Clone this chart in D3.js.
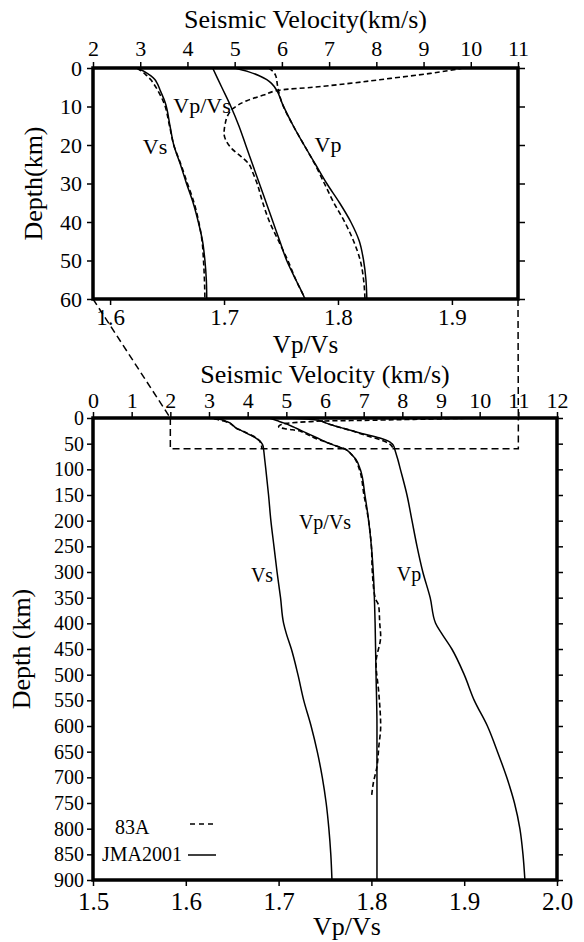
<!DOCTYPE html>
<html>
<head>
<meta charset="utf-8">
<script src="https://cdn.jsdelivr.net/npm/d3@7"></script>
<style>
  html, body { margin: 0; padding: 0; background: #fff; }
  svg { display: block; }
  text { font-family: "Liberation Serif", "Times New Roman", serif; fill: #000; }
</style>
</head>
<body>
<svg id="chart" width="584" height="942"></svg>
<script>
// ---------------- DATA ----------------
// JMA2001 model (solid)
const jmaDepth = [0, 1, 2, 3, 4, 6, 9, 15, 20, 25, 30, 35, 40, 45, 50, 55, 60, 80, 100, 150, 200, 250, 300, 350, 400, 420, 450, 500, 550, 600, 650, 700, 750, 800, 850, 900];
const jmaVp = [5.00, 5.30, 5.52, 5.68, 5.78, 5.90, 6.00, 6.24, 6.47, 6.71, 6.95, 7.22, 7.46, 7.64, 7.73, 7.78, 7.80, 7.88, 7.95, 8.12, 8.25, 8.38, 8.53, 8.72, 8.86, 9.02, 9.28, 9.60, 9.86, 10.20, 10.46, 10.70, 10.90, 11.04, 11.12, 11.17];
const jmaVs = [2.93, 3.10, 3.22, 3.31, 3.36, 3.43, 3.53, 3.63, 3.71, 3.85, 3.98, 4.12, 4.23, 4.32, 4.37, 4.40, 4.41, 4.44, 4.47, 4.54, 4.60, 4.68, 4.76, 4.85, 4.93, 5.00, 5.13, 5.30, 5.45, 5.64, 5.80, 5.93, 6.03, 6.10, 6.15, 6.18];
const jmaRatioDepth = [0, 5, 10, 15, 20, 25, 30, 35, 40, 45, 50, 55, 60, 70, 80, 100, 150, 200, 250, 300, 400, 500, 600, 900];
const jmaRatio = [1.690, 1.698, 1.706, 1.713, 1.719, 1.725, 1.731, 1.737, 1.743, 1.749, 1.755, 1.763, 1.771, 1.778, 1.783, 1.788, 1.793, 1.797, 1.800, 1.802, 1.804, 1.805, 1.806, 1.806];

// 83A model (dashed)
const a83Depth = [0, 1, 2, 3, 4, 6, 9, 15, 20, 25, 30, 35, 40, 45, 50, 55, 60];
const a83Vp = [5.72, 5.82, 5.87, 5.89, 5.90, 5.93, 6.00, 6.24, 6.47, 6.70, 6.90, 7.10, 7.33, 7.52, 7.66, 7.73, 7.76];
const a83Vs = [2.93, 3.05, 3.14, 3.22, 3.28, 3.38, 3.50, 3.62, 3.71, 3.86, 4.00, 4.14, 4.24, 4.31, 4.34, 4.36, 4.37];
const a83RatioDepth = [0, 1.4, 2.7, 4.0, 5.0, 5.7, 7.0, 8.5, 10.5, 12.5, 14.5, 17, 19, 21, 23, 25, 27, 30, 35, 40, 45, 50, 55, 60, 70, 100, 150, 200, 250, 300, 350, 367, 400, 425, 477, 536, 601, 640, 679, 712, 740];
const a83Ratio = [1.910, 1.881, 1.846, 1.810, 1.778, 1.750, 1.735, 1.720, 1.708, 1.703, 1.701, 1.700, 1.702, 1.707, 1.715, 1.722, 1.725, 1.729, 1.734, 1.740, 1.748, 1.756, 1.763, 1.771, 1.778, 1.787, 1.792, 1.797, 1.800, 1.801, 1.804, 1.808, 1.809, 1.810, 1.805, 1.808, 1.810, 1.808, 1.806, 1.802, 1.800];

// Tick values / labels
const topVelTicks = [2, 3, 4, 5, 6, 7, 8, 9, 10, 11];
const topDepthTicks = [0, 10, 20, 30, 40, 50, 60];
const topRatioTicks = [1.6, 1.7, 1.8, 1.9];
const topRatioLabels = ["1.6", "1.7", "1.8", "1.9"];
const botVelTicks = [0, 1, 2, 3, 4, 5, 6, 7, 8, 9, 10, 11, 12];
const botDepthTicks = [0, 50, 100, 150, 200, 250, 300, 350, 400, 450, 500, 550, 600, 650, 700, 750, 800, 850, 900];
const botRatioTicks = [1.5, 1.6, 1.7, 1.8, 1.9, 2.0];
const botRatioLabels = ["1.5", "1.6", "1.7", "1.8", "1.9", "2.0"];

const titleVel1 = "Seismic Velocity(km/s)";
const titleVel2 = "Seismic Velocity (km/s)";
const titleDepth1 = "Depth(km)";
const titleDepth2 = "Depth (km)";
const titleRatio = "Vp/Vs";
const legendNames = ["83A", "JMA2001"];

// ---------------- DRAW ----------------
const svg = d3.select("#chart");

const topBox = {x0: 93, x1: 518, y0: 68, y1: 299};
const botBox = {x0: 93, x1: 557, y0: 418, y1: 880};

const xTopV = d3.scaleLinear().domain([2, 11]).range([topBox.x0, topBox.x1]);
const xTopR = d3.scaleLinear().domain([1.585, 1.958]).range([topBox.x0, topBox.x1]);
const yTop = d3.scaleLinear().domain([0, 60]).range([topBox.y0, topBox.y1]);

const xBotV = d3.scaleLinear().domain([0, 12]).range([botBox.x0, botBox.x1]);
const xBotR = d3.scaleLinear().domain([1.5, 2.0]).range([botBox.x0, botBox.x1]);
const yBot = d3.scaleLinear().domain([0, 900]).range([botBox.y0, botBox.y1]);

const defs = svg.append("defs");
defs.append("clipPath").attr("id", "clipTop").append("rect")
  .attr("x", topBox.x0).attr("y", topBox.y0)
  .attr("width", topBox.x1 - topBox.x0).attr("height", topBox.y1 - topBox.y0);
defs.append("clipPath").attr("id", "clipBot").append("rect")
  .attr("x", botBox.x0).attr("y", botBox.y0)
  .attr("width", botBox.x1 - botBox.x0).attr("height", botBox.y1 - botBox.y0);

function zipData(depths, vals) { return depths.map((d, i) => ({d: d, v: vals[i]})); }

function drawCurve(g, xs, ys, depths, vals, dashed) {
  const line = d3.line().x(p => xs(p.v)).y(p => ys(p.d)).curve(d3.curveMonotoneY);
  g.append("path")
    .datum(zipData(depths, vals))
    .attr("d", line)
    .attr("fill", "none")
    .attr("stroke", "#000")
    .attr("stroke-width", dashed ? 1.6 : 1.5)
    .attr("stroke-dasharray", dashed ? "5,3" : null);
}

function styleAxis(g, fontSize) {
  g.select(".domain").remove();
  g.selectAll(".tick line").attr("stroke", "#000").attr("stroke-width", 1.5);
  g.selectAll(".tick text").attr("font-size", fontSize).attr("fill", "#000")
    .attr("font-family", '"Liberation Serif", "Times New Roman", serif');
}

// ---- Top panel ----
const gTopCurves = svg.append("g").attr("clip-path", "url(#clipTop)");
drawCurve(gTopCurves, xTopV, yTop, a83Depth, a83Vs, true);
drawCurve(gTopCurves, xTopV, yTop, a83Depth, a83Vp, true);
drawCurve(gTopCurves, xTopR, yTop, a83RatioDepth, a83Ratio, true);
drawCurve(gTopCurves, xTopV, yTop, jmaDepth, jmaVs, false);
drawCurve(gTopCurves, xTopV, yTop, jmaDepth, jmaVp, false);
drawCurve(gTopCurves, xTopR, yTop, jmaRatioDepth, jmaRatio, false);

svg.append("g").attr("transform", `translate(0,${topBox.y0})`)
  .call(d3.axisTop(xTopV).tickValues(topVelTicks).tickFormat(d3.format("d")).tickSize(6).tickPadding(6))
  .call(g => styleAxis(g, 22));
svg.append("g").attr("transform", `translate(0,${topBox.y1})`)
  .call(d3.axisBottom(xTopR).tickValues(topRatioTicks).tickFormat((d, i) => topRatioLabels[i]).tickSize(6).tickPadding(4))
  .call(g => styleAxis(g, 23));
svg.append("g").attr("transform", `translate(${topBox.x0},0)`)
  .call(d3.axisLeft(yTop).tickValues(topDepthTicks).tickFormat(d3.format("d")).tickSize(6).tickPadding(5))
  .call(g => styleAxis(g, 22));
svg.append("g").attr("transform", `translate(${topBox.x1},0)`)
  .call(d3.axisRight(yTop).tickValues(topDepthTicks).tickFormat("").tickSize(7))
  .call(g => styleAxis(g, 22));

svg.append("rect")
  .attr("x", topBox.x0).attr("y", topBox.y0)
  .attr("width", topBox.x1 - topBox.x0).attr("height", topBox.y1 - topBox.y0)
  .attr("fill", "none").attr("stroke", "#000").attr("stroke-width", 3.5);

svg.append("text").attr("x", (topBox.x0 + topBox.x1) / 2).attr("y", 28)
  .attr("text-anchor", "middle").attr("font-size", 26).text(titleVel1);
svg.append("text").attr("x", (topBox.x0 + topBox.x1) / 2).attr("y", 353)
  .attr("text-anchor", "middle").attr("font-size", 25).text(titleRatio);
svg.append("text").attr("transform", `translate(42,${(topBox.y0 + topBox.y1) / 2}) rotate(-90)`)
  .attr("text-anchor", "middle").attr("font-size", 26).text(titleDepth1);

svg.append("text").attr("x", 155).attr("y", 154).attr("text-anchor", "middle").attr("font-size", 22).text("Vs");
svg.append("text").attr("x", 202).attr("y", 113).attr("text-anchor", "middle").attr("font-size", 22).text("Vp/Vs");
svg.append("text").attr("x", 328).attr("y", 152).attr("text-anchor", "middle").attr("font-size", 22).text("Vp");

// ---- Bottom panel ----
const gBotCurves = svg.append("g").attr("clip-path", "url(#clipBot)");
drawCurve(gBotCurves, xBotV, yBot, a83Depth, a83Vs, true);
drawCurve(gBotCurves, xBotV, yBot, a83Depth, a83Vp, true);
drawCurve(gBotCurves, xBotR, yBot, a83RatioDepth, a83Ratio, true);
drawCurve(gBotCurves, xBotV, yBot, jmaDepth, jmaVs, false);
drawCurve(gBotCurves, xBotV, yBot, jmaDepth, jmaVp, false);
drawCurve(gBotCurves, xBotR, yBot, jmaRatioDepth, jmaRatio, false);

svg.append("g").attr("transform", `translate(0,${botBox.y0})`)
  .call(d3.axisTop(xBotV).tickValues(botVelTicks).tickFormat(d3.format("d")).tickSize(6).tickPadding(4))
  .call(g => styleAxis(g, 22));
svg.append("g").attr("transform", `translate(0,${botBox.y1})`)
  .call(d3.axisBottom(xBotR).tickValues(botRatioTicks).tickFormat((d, i) => botRatioLabels[i]).tickSize(6).tickPadding(6))
  .call(g => styleAxis(g, 25));
svg.append("g").attr("transform", `translate(${botBox.x0},0)`)
  .call(d3.axisLeft(yBot).tickValues(botDepthTicks).tickFormat(d3.format("d")).tickSize(6).tickPadding(3))
  .call(g => styleAxis(g, 20));
svg.append("g").attr("transform", `translate(${botBox.x1},0)`)
  .call(d3.axisRight(yBot).tickValues(botDepthTicks).tickFormat("").tickSize(6))
  .call(g => styleAxis(g, 20));

svg.append("rect")
  .attr("x", botBox.x0).attr("y", botBox.y0)
  .attr("width", botBox.x1 - botBox.x0).attr("height", botBox.y1 - botBox.y0)
  .attr("fill", "none").attr("stroke", "#000").attr("stroke-width", 3.5);

svg.append("text").attr("x", (botBox.x0 + botBox.x1) / 2).attr("y", 383)
  .attr("text-anchor", "middle").attr("font-size", 26).text(titleVel2);
svg.append("text").attr("x", 347).attr("y", 935)
  .attr("text-anchor", "middle").attr("font-size", 26).text(titleRatio);
svg.append("text").attr("transform", `translate(30,${(botBox.y0 + botBox.y1) / 2}) rotate(-90)`)
  .attr("text-anchor", "middle").attr("font-size", 26).text(titleDepth2);

svg.append("text").attr("x", 262).attr("y", 582).attr("text-anchor", "middle").attr("font-size", 20).text("Vs");
svg.append("text").attr("x", 325).attr("y", 529).attr("text-anchor", "middle").attr("font-size", 20).text("Vp/Vs");
svg.append("text").attr("x", 409).attr("y", 581).attr("text-anchor", "middle").attr("font-size", 20).text("Vp");

// Legend
svg.append("text").attr("x", 115).attr("y", 834).attr("font-size", 20).text(legendNames[0]);
svg.append("line").attr("x1", 190).attr("x2", 216).attr("y1", 824).attr("y2", 824)
  .attr("stroke", "#000").attr("stroke-width", 1.5).attr("stroke-dasharray", "5,4");
svg.append("text").attr("x", 102).attr("y", 861).attr("font-size", 20).text(legendNames[1]);
svg.append("line").attr("x1", 188).attr("x2", 216).attr("y1", 855).attr("y2", 855)
  .attr("stroke", "#000").attr("stroke-width", 1.5);

// ---- Zoom box and connectors ----
const zx0 = xBotV(2), zx1 = xBotV(11), zy0 = yBot(0), zy1 = yBot(60);
const dashStyle = sel => sel.attr("fill", "none").attr("stroke", "#000").attr("stroke-width", 1.5).attr("stroke-dasharray", "7,4");
svg.append("path")
  .attr("d", `M${zx0},${zy0} L${zx0},${zy1} L${zx1},${zy1} L${zx1},${zy0}`)
  .call(dashStyle);
svg.append("line").attr("x1", topBox.x0).attr("y1", topBox.y1).attr("x2", zx0).attr("y2", zy0).call(dashStyle);
svg.append("line").attr("x1", topBox.x1).attr("y1", topBox.y1).attr("x2", zx1).attr("y2", zy0).call(dashStyle);
</script>
</body>
</html>
